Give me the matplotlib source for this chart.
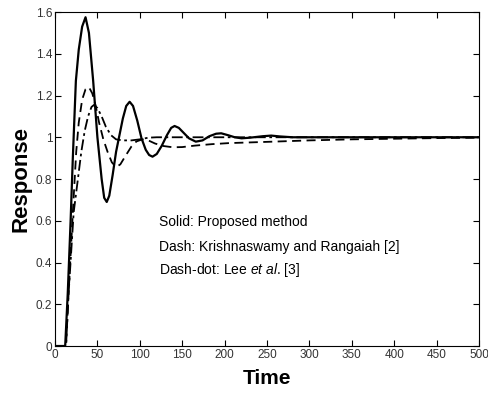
import matplotlib
matplotlib.use("Agg")
import matplotlib.pyplot as plt

# Proposed method (solid)
t_solid = [0, 12, 15, 18.4, 21, 24.6, 28, 32, 36, 40, 45, 50, 55, 58, 61, 64, 68, 72, 76, 80,
           84, 88, 92, 97, 102, 107, 111, 115, 120, 126, 132, 137, 141, 146, 152, 158, 166,
           174, 182, 190, 196, 204, 212, 220, 230, 245, 255, 265, 280, 300, 500]
y_solid = [0, 0, 0.25, 0.60, 0.90, 1.27, 1.42, 1.53, 1.575, 1.50, 1.27, 1.00, 0.80, 0.71, 0.69,
           0.72, 0.82, 0.93, 1.01, 1.09, 1.15, 1.17, 1.15, 1.08, 0.995, 0.94, 0.915, 0.907,
           0.92, 0.96, 1.01, 1.045, 1.054, 1.045, 1.02, 0.995, 0.979, 0.985, 1.005, 1.017,
           1.019, 1.01, 1.0, 0.995, 0.998, 1.005, 1.008, 1.004, 1.0, 1.0, 1.0]

# Krishnaswamy and Rangaiah (dash)
t_dash = [0, 13, 16, 21, 25, 28, 32, 36, 40, 44, 48, 52, 57, 62, 67, 72, 77, 83, 90, 96, 103,
          110, 118, 128, 139, 150, 165, 185, 205, 250, 300, 350, 400, 450, 500]
y_dash = [0, 0, 0.25, 0.64, 0.93, 1.07, 1.18, 1.23, 1.24, 1.21, 1.15, 1.07, 0.99, 0.93, 0.88,
          0.857, 0.87, 0.91, 0.955, 0.98, 0.99, 0.985, 0.97, 0.958, 0.952, 0.953, 0.96, 0.967,
          0.972, 0.978, 0.985, 0.99, 0.993, 0.996, 0.998]

# Lee et al. (dash-dot)
t_dashdot = [0, 13, 16, 22, 27, 31, 35, 39, 43, 46, 50, 55, 60, 66, 72, 80, 90, 100, 110, 120, 500]
y_dashdot = [0, 0, 0.25, 0.64, 0.80, 0.93, 1.03, 1.10, 1.145, 1.155, 1.14, 1.10, 1.05, 1.01,
             0.99, 0.985, 0.985, 0.99, 0.998, 1.0, 1.0]

x_ticks = [0, 50, 100, 150, 200, 250, 300, 350, 400, 450, 500]
y_ticks = [0, 0.2, 0.4, 0.6, 0.8, 1.0, 1.2, 1.4, 1.6]
y_ticklabels = ["0", "0.2", "0.4", "0.6", "0.8", "1", "1.2", "1.4", "1.6"]

plt.rcParams['font.family'] = ['Liberation Sans', 'DejaVu Sans']
plt.rcParams['mathtext.fontset'] = 'custom'
plt.rcParams['mathtext.it'] = 'Liberation Sans:italic'
plt.rcParams['mathtext.rm'] = 'Liberation Sans'

fig = plt.figure(figsize=(4.89, 3.94), dpi=100)
ax = fig.add_axes([0.1125, 0.1218, 0.8670, 0.8477])

ax.plot(t_solid, y_solid, color='black', lw=1.6, linestyle='-')
ax.plot(t_dash, y_dash, color='black', lw=1.3, linestyle=(0, (5, 3)))
ax.plot(t_dashdot, y_dashdot, color='black', lw=1.3, linestyle=(0, (6, 2, 1.5, 2)))

ax.set_xlim(0, 500)
ax.set_ylim(0, 1.6)
ax.set_xticks(x_ticks)
ax.set_xticklabels([str(v) for v in x_ticks])
ax.set_yticks(y_ticks)
ax.set_yticklabels(y_ticklabels)
ax.tick_params(direction='in', top=True, right=True, length=4, width=0.8,
               labelsize=8.5, labelcolor='#333333', pad=2)
for s in ax.spines.values():
    s.set_linewidth(0.8)

ax.set_xlabel('Time', fontsize=15, fontweight='bold', labelpad=6)
ax.set_ylabel('Response', fontsize=16, fontweight='bold', labelpad=3)

ax.text(123, 0.594, 'Solid: Proposed method', fontsize=10, va='center', ha='left')
ax.text(123, 0.474, 'Dash: Krishnaswamy and Rangaiah [2]', fontsize=10, va='center', ha='left')
ax.text(123, 0.364, 'Dash-dot: Lee $\\it{et\\ al}$. [3]', fontsize=10, va='center', ha='left')

fig.savefig('out.png', dpi=100)
